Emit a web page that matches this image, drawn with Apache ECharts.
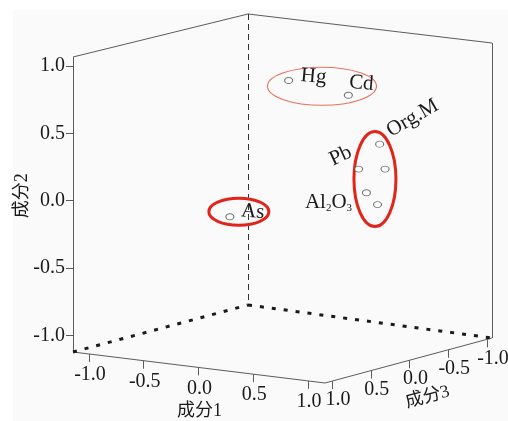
<!DOCTYPE html>
<html><head><meta charset="utf-8">
<script src="https://cdn.jsdelivr.net/npm/echarts@6/dist/echarts.min.js"></script>
<style>html,body{margin:0;padding:0;background:#fff}#c{width:508px;height:421px}</style>
</head><body><div id="c"></div><script>
// ---- data (component loadings) ----
const varNames = ['Hg','Cd','Org.M','Pb','','','Al2O3','As'];
const comp1 = [0.18, 0.66, 0.66, 0.61, 0.71, 0.61, 0.64, -0.29];
const comp2 = [0.88, 0.80, 0.38, 0.22, 0.20, 0.03, -0.07, -0.16];
const comp3 = [0.20, 0.10, -0.30, -0.10, -0.30, -0.20, -0.30, 0.30];
const tickValues = [-1.0, -0.5, 0.0, 0.5, 1.0];
const tickLabels = ['-1.0', '-0.5', '0.0', '0.5', '1.0'];
const axisNames = ['成分1', '成分2', '成分3'];
const range1 = [-1.146, 1.155];
const range2 = [-1.124, 1.067];
const range3 = [-1.0645, 1.0905];
const groups = [[0, 1], [2, 3, 4, 5, 6], [7]];

// ---- view (3D box anchors in the hidden 2D grid) ----
const view = {
  bottom: {fl: [73, 352], fr: [325, 383], br: [492, 338], bl: [248, 305]},
  top:    {fl: [73, 57],  fr: [325, 84],  br: [492, 43],  bl: [248, 14]}
};
function bil(c, a, b, i) {
  return c.fl[i] * (1 - a) * (1 - b) + c.fr[i] * a * (1 - b) + c.br[i] * a * b + c.bl[i] * (1 - a) * b;
}
function proj(x, y, z) {
  const a = (x - range1[0]) / (range1[1] - range1[0]);
  const b = (range3[1] - z) / (range3[1] - range3[0]);
  const c = (y - range2[0]) / (range2[1] - range2[0]);
  const sx = bil(view.bottom, a, b, 0);
  const sy = (1 - c) * bil(view.bottom, a, b, 1) + c * bil(view.top, a, b, 1);
  return [sx, sy];
}
const X0 = range1[0], X1 = range1[1], Y0 = range2[0], Y1 = range2[1], Z0 = range3[0], Z1 = range3[1];

const FONT = '"Liberation Serif","Times New Roman","Noto Sans CJK SC",serif';
const pts = comp1.map((v, i) => proj(v, comp2[i], comp3[i]));

const solidEdges = [
  [proj(X0, Y0, Z1), proj(X0, Y1, Z1)],
  [proj(X0, Y1, Z1), proj(X0, Y1, Z0)],
  [proj(X0, Y1, Z0), proj(X1, Y1, Z0)],
  [proj(X1, Y1, Z0), proj(X1, Y0, Z0)],
  [proj(X0, Y0, Z1), proj(X1, Y0, Z1)],
  [proj(X1, Y0, Z1), proj(X1, Y0, Z0)]
];
const dashedEdges = [[proj(X0, Y1, Z0), proj(X0, Y0, Z0)]];
const dottedEdges = [
  [proj(X0, Y0, Z1), proj(X0, Y0, Z0)],
  [proj(X0, Y0, Z0), proj(X1, Y0, Z0)]
];
const TL = 7;
const ticks = [];
tickValues.forEach(v => {
  const py = proj(X0, v, Z1); ticks.push([py, [py[0] - TL, py[1]]]);
  const px = proj(v, Y0, Z1); ticks.push([px, [px[0], px[1] + TL + 1]]);
  const pz = proj(X1, Y0, v); ticks.push([pz, [pz[0], pz[1] + TL + 1]]);
});

function linesSeries(segs, style) {
  return {type: 'lines', coordinateSystem: 'cartesian2d', silent: true, polyline: false,
    data: segs.map(s => ({coords: s})), lineStyle: style, z: 2};
}

const chart = echarts.init(document.getElementById('c'), null, {renderer: 'canvas'});
chart.setOption({
  animation: false,
  backgroundColor: '#ffffff',
  grid: {left: 0, right: 0, top: 0, bottom: 0},
  xAxis: {type: 'value', min: 0, max: 508, show: false},
  yAxis: {type: 'value', min: 0, max: 421, inverse: true, show: false},
  series: [
    linesSeries(solidEdges, {color: '#5c5c5c', width: 1, opacity: 1}),
    linesSeries(dashedEdges, {color: '#333', width: 1, type: [6, 4], opacity: 1}),
    linesSeries(dottedEdges, {color: '#1a1a1a', width: 3, type: [4, 8], opacity: 1}),
    linesSeries(ticks, {color: '#5c5c5c', width: 1, opacity: 1}),
    {type: 'scatter', silent: true, z: 5, symbol: 'circle', symbolSize: [8, 6],
     itemStyle: {color: '#fff', borderColor: '#555', borderWidth: 1},
     data: pts}
  ]
});

const toPx = p => chart.convertToPixel({gridIndex: 0}, p);
const graphic = [];
graphic.push({type: 'rect', z: -10, silent: true, shape: {x: 13, y: 10, width: 495, height: 411},
  style: {fill: '#fafafa'}});

// tick labels
tickValues.forEach((v, i) => {
  const py = toPx(proj(X0, v, Z1));
  graphic.push({type: 'text', x: py[0] - TL - 1, y: py[1], style: {text: tickLabels[i], font: '20px ' + FONT,
    fill: '#1a1a1a', align: 'right', verticalAlign: 'middle'}});
  const px = toPx(proj(v, Y0, Z1));
  graphic.push({type: 'text', x: px[0] + 1, y: px[1] + 21, style: {text: tickLabels[i], font: '20px ' + FONT,
    fill: '#1a1a1a', align: 'center', verticalAlign: 'middle'}});
  const pz = toPx(proj(X1, Y0, v));
  graphic.push({type: 'text', x: pz[0] + 6, y: pz[1] + 19, style: {text: tickLabels[i], font: '20px ' + FONT,
    fill: '#1a1a1a', align: 'center', verticalAlign: 'middle'}});
});
// axis titles
const a1 = toPx(proj(0.0, Y0, Z1));
graphic.push({type: 'text', x: a1[0] + 1, y: a1[1] + 44, style: {text: axisNames[0], font: '18px ' + FONT,
  fill: '#1a1a1a', align: 'center', verticalAlign: 'middle'}});
const a2 = toPx(proj(X0, 0.0, Z1));
graphic.push({type: 'text', x: a2[0] - 51, y: a2[1] - 5, rotation: Math.PI / 2, style: {text: axisNames[1], font: '18px ' + FONT,
  fill: '#1a1a1a', align: 'center', verticalAlign: 'middle'}});
const a3 = toPx(proj(X1, Y0, 0.0));
graphic.push({type: 'text', x: a3[0] + 18, y: a3[1] + 37, rotation: 0.26, style: {text: axisNames[2], font: '18px ' + FONT,
  fill: '#1a1a1a', align: 'center', verticalAlign: 'middle'}});

// point labels (offset dx, dy, rotation in degrees)
const labelPlace = [[25, -4, -5], [13, -12, -5], [33, -26, 30], [-18, -13, 25], null, null, [-49, -2, 0], [23, -5, -5]];
varNames.forEach((n, i) => {
  const lp = labelPlace[i];
  if (!n || !lp) return;
  const p = toPx(pts[i]);
  let style = {text: n, font: '21px ' + FONT, fill: '#1a1a1a', align: 'center', verticalAlign: 'middle'};
  if (n === 'Al2O3') {
    style.text = 'Al{s|2}O{s|3}';
    style.rich = {s: {font: '11px ' + FONT, fill: '#1a1a1a', padding: [12, 0, 0, 0]}};
  }
  graphic.push({type: 'text', x: p[0] + lp[0], y: p[1] + lp[1], rotation: lp[2] * Math.PI / 180, z: 6, style});
});

// group ellipses
const ellStyle = [
  {dx: 3.5, dy: -1.6, rx: 54.5, ry: 19, w: 1.1, color: '#e8705c'},
  {dx: 1.5, dy: 3.2, rx: 21, ry: 47.5, w: 3, color: '#e0261b'},
  {dx: 9, dy: -5, rx: 30, ry: 13.5, w: 3, color: '#e0261b'}
];
groups.forEach((g, k) => {
  let mx = 0, my = 0;
  g.forEach(i => { const p = toPx(pts[i]); mx += p[0]; my += p[1]; });
  mx /= g.length; my /= g.length;
  const s = ellStyle[k];
  graphic.push({type: 'ellipse', z: 4, silent: true,
    shape: {cx: mx + s.dx, cy: my + s.dy, rx: s.rx, ry: s.ry},
    style: {fill: 'none', stroke: s.color, lineWidth: s.w}});
});

chart.setOption({graphic});
</script></body></html>
